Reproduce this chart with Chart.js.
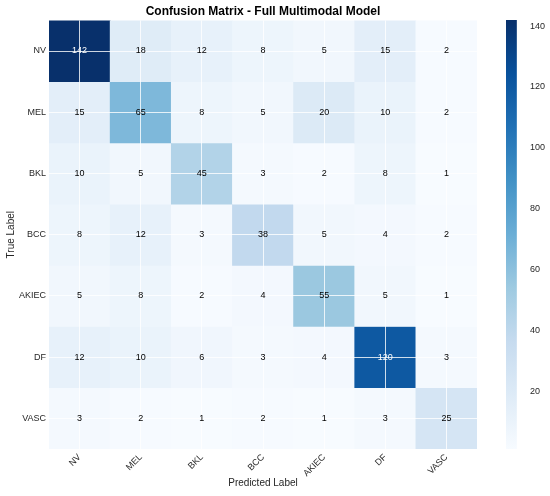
<!DOCTYPE html>
<html>
<head>
<meta charset="utf-8">
<script src="https://cdn.jsdelivr.net/npm/chart.js@4.4.1/dist/chart.umd.min.js"></script>
<style>
  html, body { margin: 0; padding: 0; background: #fff; }
  #wrap { position: relative; width: 550px; height: 496px; }
  #cm { position: absolute; left: 0; top: 0; }
  #cbar { position: absolute; left: 500px; top: 0; }
</style>
</head>
<body>
<div id="wrap">
  <canvas id="cm" width="550" height="496"></canvas>
  <canvas id="cbar" width="50" height="496"></canvas>
</div>
<script>
// class labels (same order for true and predicted)
const classes = ["NV", "MEL", "BKL", "BCC", "AKIEC", "DF", "VASC"];

// one row per true label, columns = predicted label
const rowNV    = [142, 18, 12,  8,  5,  15,  2];
const rowMEL   = [ 15, 65,  8,  5, 20,  10,  2];
const rowBKL   = [ 10,  5, 45,  3,  2,   8,  1];
const rowBCC   = [  8, 12,  3, 38,  5,   4,  2];
const rowAKIEC = [  5,  8,  2,  4, 55,   5,  1];
const rowDF    = [ 12, 10,  6,  3,  4, 120,  3];
const rowVASC  = [  3,  2,  1,  2,  1,   3, 25];
const matrix = [rowNV, rowMEL, rowBKL, rowBCC, rowAKIEC, rowDF, rowVASC];

const colorbarTicks = [20, 40, 60, 80, 100, 120, 140];

const vmin = Math.min(...matrix.flat());
const vmax = Math.max(...matrix.flat());

// matplotlib "Blues"
const blues = ['#f7fbff', '#deebf7', '#c6dbef', '#9ecae1', '#6baed6',
               '#4292c6', '#2171b5', '#08519c', '#08306b'];

function hexToRgb(h) {
  return [parseInt(h.slice(1, 3), 16), parseInt(h.slice(3, 5), 16), parseInt(h.slice(5, 7), 16)];
}
function bluesAt(t) {
  t = Math.max(0, Math.min(1, t));
  const p = t * (blues.length - 1);
  const i = Math.min(Math.floor(p), blues.length - 2);
  const f = p - i;
  const a = hexToRgb(blues[i]), b = hexToRgb(blues[i + 1]);
  const c = a.map((v, k) => Math.round(v + (b[k] - v) * f));
  return 'rgb(' + c.join(',') + ')';
}
const norm = v => (v - vmin) / (vmax - vmin);

const FONT = "'Liberation Sans', Arial, sans-serif";
Chart.defaults.font.family = FONT;
Chart.defaults.color = '#262626';

// each true-label row is a dataset of floating bars [r, r+1]
const datasets = matrix.map((row, r) => ({
  label: classes[r],
  data: row.map(() => [r, r + 1]),
  values: row,
  backgroundColor: row.map(v => bluesAt(norm(v))),
  borderWidth: 0,
  barPercentage: 1,
  categoryPercentage: 1,
  grouped: false
}));

// numbers in the cells
const cellText = {
  id: 'cellText',
  afterDraw(chart) {
    const ctx = chart.ctx;
    ctx.save();
    ctx.font = '9px ' + FONT;
    ctx.textAlign = 'center';
    ctx.textBaseline = 'middle';
    chart.data.datasets.forEach((ds, i) => {
      chart.getDatasetMeta(i).data.forEach((bar, j) => {
        const v = ds.values[j];
        ctx.fillStyle = v > vmax / 2 ? '#ffffff' : '#000000';
        ctx.fillText(String(v), bar.x, (bar.y + bar.base) / 2);
      });
    });
    ctx.restore();
  }
};

const gridLine = { z: 1, color: 'rgba(255,255,255,0.8)', lineWidth: 1, drawTicks: false };

new Chart(document.getElementById('cm'), {
  type: 'bar',
  data: { labels: classes, datasets: datasets },
  options: {
    responsive: false,
    animation: false,
    events: [],
    layout: { padding: { left: 0, right: 73, top: 0, bottom: 0 } },
    plugins: {
      legend: { display: false },
      tooltip: { enabled: false },
      title: {
        display: true,
        text: 'Confusion Matrix - Full Multimodal Model',
        fullSize: false,
        color: '#000',
        font: { size: 12, weight: 'bold' },
        padding: { top: 4, bottom: 2 }
      }
    },
    scales: {
      x: {
        type: 'category',
        offset: true,
        grid: Object.assign({ offset: false }, gridLine),
        border: { display: false },
        ticks: { font: { size: 9 }, minRotation: 45, maxRotation: 45, padding: 3 },
        title: { display: true, text: 'Predicted Label', font: { size: 10 }, padding: { top: 0, bottom: 7 } },
        afterFit(scale) { scale.height = 47; }
      },
      y: {
        type: 'linear',
        min: 0,
        max: classes.length,
        reverse: true,
        grid: gridLine,
        border: { display: false },
        afterBuildTicks(scale) {
          scale.ticks = classes.map((c, i) => ({ value: i + 0.5 }));
        },
        ticks: {
          font: { size: 9 },
          padding: 3,
          callback: v => classes[Math.floor(v)]
        },
        title: { display: true, text: 'True Label', font: { size: 10 }, padding: { top: 5, bottom: 0 } },
        afterFit(scale) { scale.width = 49; }
      }
    }
  },
  plugins: [cellText]
});

// colorbar: one floating bar from vmin to vmax with a Blues gradient
new Chart(document.getElementById('cbar'), {
  type: 'bar',
  data: {
    labels: [''],
    datasets: [{
      data: [[vmin, vmax]],
      barPercentage: 1,
      categoryPercentage: 1,
      borderWidth: 0,
      backgroundColor(c) {
        const area = c.chart.chartArea;
        if (!area) return blues[4];
        const g = c.chart.ctx.createLinearGradient(0, area.bottom, 0, area.top);
        blues.forEach((col, k) => g.addColorStop(k / (blues.length - 1), col));
        return g;
      }
    }]
  },
  options: {
    responsive: false,
    animation: false,
    events: [],
    layout: { padding: { left: 6, right: 0, top: 20, bottom: 47 } },
    plugins: { legend: { display: false }, tooltip: { enabled: false } },
    scales: {
      x: { display: false, offset: false },
      y: {
        position: 'right',
        min: vmin,
        max: vmax,
        grid: { display: false, drawTicks: false },
        border: { display: false },
        afterBuildTicks(scale) {
          scale.ticks = colorbarTicks.map(v => ({ value: v }));
        },
        ticks: { font: { size: 9 }, padding: 3 },
        afterFit(scale) { scale.width = 23; }
      }
    }
  }
});
</script>
</body>
</html>
